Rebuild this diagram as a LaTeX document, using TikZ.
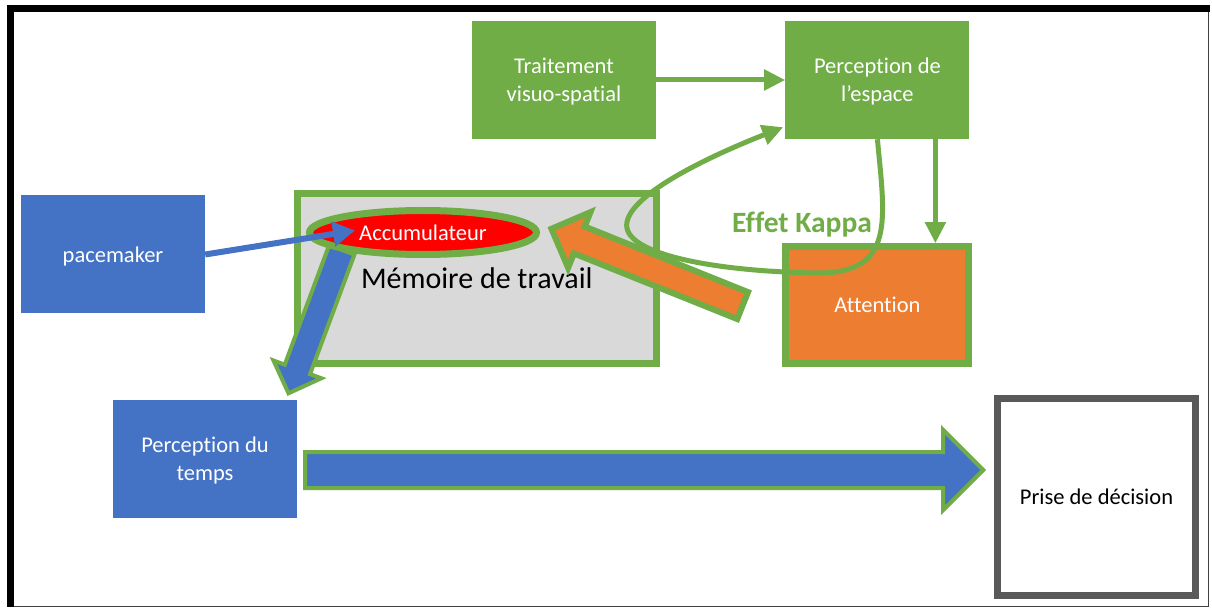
\documentclass[tikz,border=0pt]{standalone}
\usepackage{fontspec}
\setmainfont{Carlito}[Ligatures=NoCommon]
\usepackage{xcolor}
\definecolor{officeGreen}{HTML}{70AD47}
\definecolor{officeBlue}{HTML}{4472C4}
\definecolor{officeOrange}{HTML}{ED7D31}
\definecolor{accuRed}{HTML}{FF0000}
\definecolor{memGray}{HTML}{D9D9D9}
\definecolor{frameGray}{HTML}{595959}
\usepackage{tikz}
\usetikzlibrary{
    shapes.geometric,
    shapes.arrows,
    arrows.meta,
    positioning,
    calc
}
\tikzset{
    % Base style for all boxes
    box base/.style={
        font=\fontsize{22.5}{28}\selectfont,
        align=center,
        text=white,
        text depth=0pt,
        inner sep=0pt,
        minimum width=184pt,
        minimum height=118pt,
    },
    % Green boxes - spatial processing
    greenbox/.style={
        box base,
        rectangle,
        fill=officeGreen,
    },
    % Blue boxes - time processing
    bluebox/.style={
        box base,
        rectangle,
        fill=officeBlue,
    },
    % Attention - orange with green border
    attnbox/.style={
        box base,
        rectangle,
        fill=officeOrange,
        draw=officeGreen,
        line width=7pt,
        minimum width=183pt,
        minimum height=117pt,
    },
    % Working memory - gray with green border
    memory/.style={
        box base,
        rectangle,
        font=\fontsize{30}{36}\selectfont,
        text=black,
        fill=memGray,
        draw=officeGreen,
        line width=7pt,
        minimum width=359.5pt,
        minimum height=170pt,
    },
    % Accumulator - red ellipse
    accu/.style={
        box base,
        ellipse,
        fill=accuRed,
        draw=officeGreen,
        line width=7pt,
        minimum width=227pt,
        minimum height=44pt,
    },
    % Decision - white with dark gray border
    decisionbox/.style={
        box base,
        rectangle,
        text=black,
        fill=white,
        draw=frameGray,
        line width=7pt,
        minimum width=198pt,
        minimum height=197pt,
    },
    % Thin arrows
    green arrow/.style={
        -{Triangle[length=21pt, width=20pt]},
        line width=5pt,
        draw=officeGreen,
    },
    blue arrow/.style={
        -{Triangle[length=22pt, width=24pt]},
        line width=6pt,
        draw=officeBlue,
    },
    % Block arrows with green outline (inner sep = half the shaft)
    block arrow/.style={
        single arrow,
        draw=officeGreen,
        pos=0,
        anchor=tail,
        sloped,
        allow upside down,
    },
    % Label for the kappa loop
    kappa label/.style={
        font=\fontsize{29.5}{35}\selectfont\bfseries,
        text=officeGreen,
        anchor=base,
    },
}

\begin{document}
\begin{tikzpicture}[x=1pt, y=-1pt]
    % page and frame
    \path [use as bounding box, fill=white] (0,0) rectangle (1212,609);
    \draw [line width=1.5pt, black!75] (8.5,6) rectangle (1208.5,606.5);
    \fill [black] (7,5) rectangle (1210,12);
    \fill [black] (7,5) rectangle (14,607);

    \node (traitement) [greenbox] at (564,80) {Traitement\\visuo-spatial};
    \node (espace) [greenbox, right=129pt of traitement] {Perception de\\l’espace};
    \node (attention) [attnbox, below=104pt of espace] {Attention};
    \node (pacemaker) [bluebox] at (113,254.5) {pacemaker};
    \node (memoire) [memory] at (476.75,278.5) {Mémoire de travail};
    \node (temps) [bluebox] at (205,459) {Perception du\\temps};
    \node (decision) [decisionbox] at (1096.5,497) {Prise de décision};

    \path ($(memoire.north west)+(49,58)$) -- ($(temps.north east)+(-10,-3)$)
        node [block arrow, fill=officeBlue, line width=4pt, inner sep=11.5pt,
              minimum height=153pt, minimum width=47pt, single arrow head extend=12pt] {};
    \node (accumulateur) [accu] at (423,232.5) {Accumulateur};

    \draw [green arrow] (traitement) -- (espace);
    \draw [green arrow] ($(espace.south)+(58,0)$) -- ($(attention.north)+(58,0)$);
    \draw [blue arrow] (pacemaker.east) -- ($(accumulateur.west)+(49,-2)$);

    \path ($(attention.west)+(-37,1.5)$) -- ($(accumulateur.east)+(7,-5.5)$)
        node [block arrow, fill=officeOrange, line width=6pt, inner sep=11.5pt,
              minimum height=206pt, minimum width=54pt, single arrow head extend=15.5pt] {};
    \path ($(temps.east)+(6,11)$) -- ($(temps.east -| decision.west)+(-10,11)$)
        node [block arrow, fill=officeBlue, line width=4pt, inner sep=16pt,
              minimum height=678pt, minimum width=76pt, single arrow head extend=22pt] {};

    \draw [green arrow] (espace.south) .. controls (885,220) and (895,272) .. (820,273)
        .. controls (720,272) and (620,255) .. (627,222)
        .. controls (632,195) and (700,160) .. ($(espace.south west)+(-2,-12)$);
    \node (kappa) [kappa label] at (802,233) {Effet Kappa};
\end{tikzpicture}
\end{document}
